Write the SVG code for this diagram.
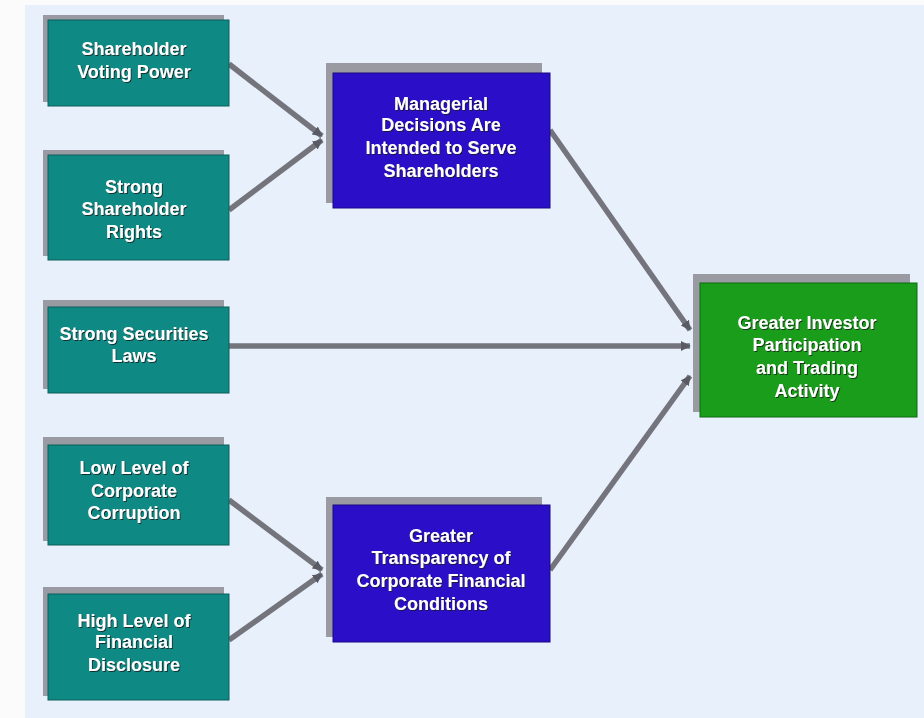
<svg xmlns="http://www.w3.org/2000/svg" width="924" height="718" viewBox="0 0 924 718">
  <style>
    .sh { fill: #9a9aa2; }
    .teal { fill: #0f8984; stroke: #0b5f5a; stroke-width: 1; }
    .blue { fill: #2b0ec8; stroke: #1a0880; stroke-width: 1; }
    .green { fill: #199d1a; stroke: #0d6a10; stroke-width: 1; }
    .lbl { font-family: "Liberation Sans Narrow", "Liberation Sans", Arial, sans-serif; font-weight: bold; font-size: 18px; fill: #ffffff; text-anchor: middle; filter: url(#ts); }
    .wire { stroke: #74747c; stroke-width: 5.5; fill: none; }
  </style>
  <defs>
    <filter id="ts" x="-10%" y="-30%" width="120%" height="160%">
      <feDropShadow dx="1" dy="1" stdDeviation="0.4" flood-color="#1a1a1a" flood-opacity="0.8"/>
    </filter>
    <marker id="tip" viewBox="0 0 6 6" refX="5.5" refY="3" markerWidth="1.8" markerHeight="1.8" orient="auto" markerUnits="strokeWidth">
      <path d="M0,0 L6,3 L0,6 Z" fill="#5a5a64"/>
    </marker>
  </defs>

  <!-- page and panel -->
  <rect x="0" y="0" width="924" height="718" fill="#fbfbfb"/>
  <rect x="25" y="5" width="899" height="713" fill="#e8f0fb"/>

  <!-- connectors -->
  <g id="connectors">
    <line class="wire" x1="229" y1="64" x2="322" y2="136" marker-end="url(#tip)"/>
    <line class="wire" x1="229" y1="210" x2="322" y2="140" marker-end="url(#tip)"/>
    <line class="wire" x1="229" y1="346" x2="690" y2="346" marker-end="url(#tip)"/>
    <line class="wire" x1="550" y1="130" x2="690" y2="330" marker-end="url(#tip)"/>
    <line class="wire" x1="550" y1="570" x2="690" y2="376" marker-end="url(#tip)"/>
    <line class="wire" x1="229" y1="500" x2="322" y2="570" marker-end="url(#tip)"/>
    <line class="wire" x1="229" y1="640" x2="322" y2="574" marker-end="url(#tip)"/>
  </g>

  <!-- input factors -->
  <g id="voting-power">
    <rect class="sh" x="43" y="15" width="181" height="87"/>
    <rect class="teal" x="48" y="20" width="181" height="86"/>
    <text class="lbl" x="134" y="55">Shareholder</text>
    <text class="lbl" x="134" y="78">Voting Power</text>
  </g>
  <g id="shareholder-rights">
    <rect class="sh" x="43" y="150" width="181" height="106"/>
    <rect class="teal" x="48" y="155" width="181" height="105"/>
    <text class="lbl" x="134" y="193">Strong</text>
    <text class="lbl" x="134" y="215">Shareholder</text>
    <text class="lbl" x="134" y="238">Rights</text>
  </g>
  <g id="securities-laws">
    <rect class="sh" x="43" y="300" width="181" height="89"/>
    <rect class="teal" x="48" y="307" width="181" height="86"/>
    <text class="lbl" x="134" y="340">Strong Securities</text>
    <text class="lbl" x="134" y="362">Laws</text>
  </g>
  <g id="low-corruption">
    <rect class="sh" x="43" y="437" width="181" height="104"/>
    <rect class="teal" x="48" y="445" width="181" height="100"/>
    <text class="lbl" x="134" y="474">Low Level of</text>
    <text class="lbl" x="134" y="497">Corporate</text>
    <text class="lbl" x="134" y="519">Corruption</text>
  </g>
  <g id="financial-disclosure">
    <rect class="sh" x="43" y="587" width="181" height="109"/>
    <rect class="teal" x="48" y="594" width="181" height="106"/>
    <text class="lbl" x="134" y="627">High Level of</text>
    <text class="lbl" x="134" y="648">Financial</text>
    <text class="lbl" x="134" y="671">Disclosure</text>
  </g>

  <!-- intermediate outcomes -->
  <g id="managerial-decisions">
    <rect class="sh" x="326" y="63" width="216" height="140"/>
    <rect class="blue" x="333" y="73" width="217" height="135"/>
    <text class="lbl" x="441" y="110">Managerial</text>
    <text class="lbl" x="441" y="131">Decisions Are</text>
    <text class="lbl" x="441" y="154">Intended to Serve</text>
    <text class="lbl" x="441" y="177">Shareholders</text>
  </g>
  <g id="transparency">
    <rect class="sh" x="326" y="497" width="216" height="140"/>
    <rect class="blue" x="333" y="505" width="217" height="137"/>
    <text class="lbl" x="441" y="542">Greater</text>
    <text class="lbl" x="441" y="564">Transparency of</text>
    <text class="lbl" x="441" y="587">Corporate Financial</text>
    <text class="lbl" x="441" y="610">Conditions</text>
  </g>

  <!-- final outcome -->
  <g id="investor-participation">
    <rect class="sh" x="693" y="274" width="217" height="138"/>
    <rect class="green" x="700" y="283" width="217" height="134"/>
    <text class="lbl" x="807" y="329">Greater Investor</text>
    <text class="lbl" x="807" y="351">Participation</text>
    <text class="lbl" x="807" y="374">and Trading</text>
    <text class="lbl" x="807" y="397">Activity</text>
  </g>
</svg>
